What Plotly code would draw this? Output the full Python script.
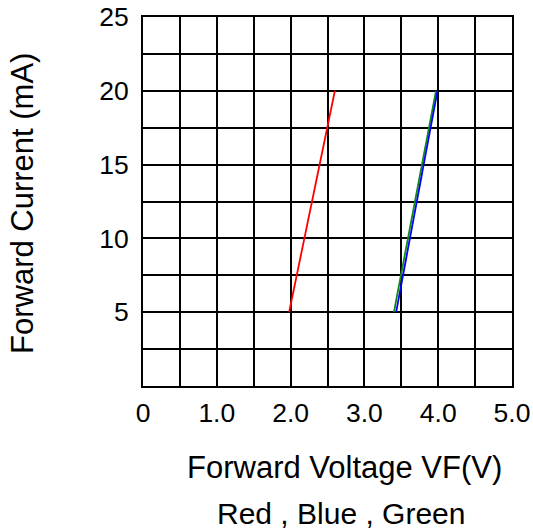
import plotly.graph_objects as go

# Data
red_vf = [1.98, 2.60]
red_if = [5, 20]
blue_vf = [3.43, 3.99]
blue_if = [5, 20]
green_vf = [3.40, 3.97]
green_if = [5, 20]

x_tickvals = [0, 0.5, 1, 1.5, 2, 2.5, 3, 3.5, 4, 4.5, 5]
x_ticktext = ["0", "", "1.0", "", "2.0", "", "3.0", "", "4.0", "", "5.0"]
y_tickvals = [0, 2.5, 5, 7.5, 10, 12.5, 15, 17.5, 20, 22.5, 25]
y_ticktext = ["", "", "5", "", "10", "", "15", "", "20", "", "25"]

FONT = "Liberation Sans, Arial, sans-serif"

W, H = 533, 530
L, T = 143, 17
PW = PH = 369

fig = go.Figure()
fig.add_trace(go.Scatter(x=red_vf, y=red_if, mode="lines", line=dict(color="#ff0000", width=1.8), name="Red"))
fig.add_trace(go.Scatter(x=green_vf, y=green_if, mode="lines", line=dict(color="#108a10", width=1.8), name="Green"))
fig.add_trace(go.Scatter(x=blue_vf, y=blue_if, mode="lines", line=dict(color="#0000ff", width=1.8), name="Blue"))

fig.update_layout(
    width=W, height=H,
    autosize=False,
    margin=dict(l=L, r=W - L - PW, t=T, b=H - T - PH, pad=0, autoexpand=False),
    paper_bgcolor="white", plot_bgcolor="white",
    showlegend=False,
    font=dict(family=FONT, color="black", size=26.5),
    xaxis=dict(range=[0, 5], tickmode="array", tickvals=x_tickvals, ticktext=x_ticktext,
               showgrid=True, gridcolor="black", gridwidth=2, automargin=False,
               showline=True, linecolor="black", linewidth=2, mirror=True,
               zeroline=False, ticks="", ticklabelstandoff=2, ticklabeloverflow="allow",
               tickfont=dict(size=26.5)),
    yaxis=dict(range=[0, 25], tickmode="array", tickvals=y_tickvals, ticktext=y_ticktext,
               showgrid=True, gridcolor="black", gridwidth=2, automargin=False,
               showline=True, linecolor="black", linewidth=2, mirror=True,
               zeroline=False, ticks="", ticklabelstandoff=7, ticklabeloverflow="allow",
               tickfont=dict(size=26.5)),
)

# positions given in window pixels (plot area spans x 143..512, y 17..386)
def px_x(x):
    return (x - L) / PW

def px_y(y):
    return (T + PH - y) / PH

fig.add_annotation(text="Forward Current (mA)", xref="paper", yref="paper",
                   x=px_x(22), y=px_y(204), showarrow=False, textangle=-90,
                   xanchor="center", yanchor="middle", font=dict(size=31))
fig.add_annotation(text="Forward Voltage VF(V)", xref="paper", yref="paper",
                   x=px_x(344.5), y=px_y(467), showarrow=False,
                   xanchor="center", yanchor="middle", font=dict(size=31))
fig.add_annotation(text="Red , Blue , Green", xref="paper", yref="paper",
                   x=px_x(340.5), y=px_y(513), showarrow=False,
                   xanchor="center", yanchor="middle", font=dict(size=30))

# remove the default 8px page margin so the figure fills the window exactly
fig.write_html("out.html", config={"displayModeBar": False},
               post_script="document.body.style.margin='0';")
